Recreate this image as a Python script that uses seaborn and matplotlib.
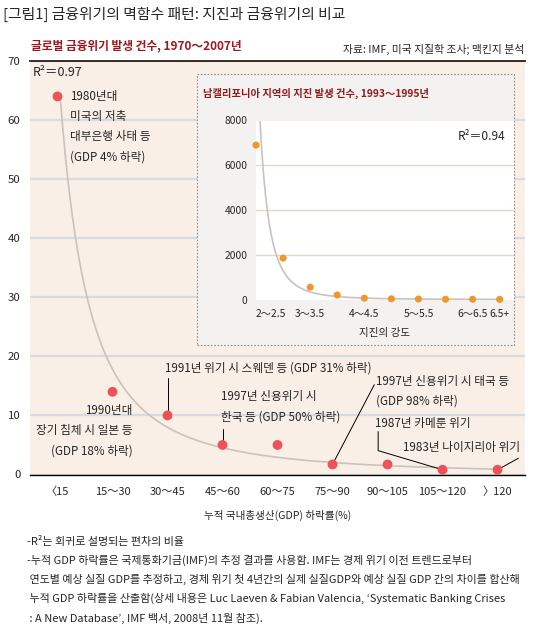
import numpy as np
import matplotlib
matplotlib.use("Agg")
import matplotlib.pyplot as plt
import seaborn as sns
from matplotlib.patches import Rectangle

# data
crisis_bins = ["〈15", "15～30", "30～45", "45～60", "60～75", "75～90", "90～105", "105～120", "〉120"]
crisis_counts = [64, 14, 10, 5, 5, 1.7, 1.7, 0.8, 0.8]
crisis_ticks = [0, 10, 20, 30, 40, 50, 60, 70]

quake_bins = ["2～2.5", "2.5～3", "3～3.5", "3.5～4", "4～4.5", "4.5～5", "5～5.5", "5.5～6", "6～6.5", "6.5+"]
quake_counts = [6900, 1850, 550, 200, 60, 30, 20, 10, 10, 5]
quake_ticks = [0, 2000, 4000, 6000, 8000]
quake_shown = ["2～2.5", "3～3.5", "4～4.5", "5～5.5", "6～6.5", "6.5+"]

notes = [
    "-R²는 회귀로 설명되는 편차의 비율",
    "-누적 GDP 하락률은 국제통화기금(IMF)의 추정 결과를 사용함. IMF는 경제 위기 이전 트렌드로부터",
    " 연도별 예상 실질 GDP를 추정하고, 경제 위기 첫 4년간의 실제 실질GDP와 예상 실질 GDP 간의 차이를 합산해",
    " 누적 GDP 하락률을 산출함(상세 내용은 Luc Laeven & Fabian Valencia, ‘Systematic Banking Crises",
    " : A New Database’, IMF 백서, 2008년 11월 참조).",
]

sns.set_style("white")
plt.rcParams['font.family'] = ['Noto Sans CJK KR', 'DejaVu Sans']

W, H = 548, 638
fig = plt.figure(figsize=(W / 100, H / 100), dpi=100)

def fx(px):
    return px / W

def fy(py):
    return 1 - py / H

RED = '#ec5257'
ORANGE = '#f2952b'
CURVE = '#c9c3bd'

# ---- main chart ----
ax = fig.add_axes([fx(30), fy(474.5), 495 / W, (474.5 - 61) / H])
ax.set_facecolor('#f9efe6')
x_main = np.arange(len(crisis_bins))

# power trend fitted on log-log
b, c = np.polyfit(np.log(x_main + 1), np.log(crisis_counts), 1)
x0 = np.exp((np.log(max(crisis_counts)) - c) / b) - 1
xs = np.linspace(x0, x_main[-1], 300)
ax.plot(xs, np.exp(c) * (xs + 1) ** b, color=CURVE, lw=1.2, zorder=2)

sns.scatterplot(x=x_main, y=crisis_counts, ax=ax, color=RED, s=50,
                edgecolor='none', zorder=4, clip_on=False, legend=False)

ax.set_xlim(-0.5, len(crisis_bins) - 0.5)
ax.set_ylim(0, 70)
ax.set_yticks(crisis_ticks)
ax.yaxis.grid(True, color='#d6dde2', lw=1.6)
ax.set_axisbelow(True)
ax.set_xticks(x_main)
ax.set_xticklabels(crisis_bins)
ax.set_xticks(np.arange(0.5, len(crisis_bins) - 1, 1), minor=True)
ax.tick_params(axis='y', length=0, pad=7, labelsize=8.2)
ax.tick_params(axis='x', which='major', length=0, pad=9, labelsize=8)
ax.tick_params(axis='x', which='minor', length=5, width=0.9, direction='inout', color='black')
for s in ['left', 'right']:
    ax.spines[s].set_visible(False)
ax.spines['top'].set_color('#2b1d14')
ax.spines['top'].set_linewidth(1.3)
ax.spines['bottom'].set_color('black')
ax.spines['bottom'].set_linewidth(1.0)
ax.set_xlabel('누적 국내총생산(GDP) 하락률(%)', fontsize=7.6, labelpad=9)
ax.set_ylabel('')

ax.text(fx(33), fy(73), 'R²＝0.97', transform=fig.transFigure, fontsize=9, va='center')

# annotations
ann = dict(fontsize=8.4, linespacing=1.72, va='center')
ax.text(0.227, 58.9, '1980년대\n미국의 저축\n대부은행 사태 등\n(GDP 4% 하락)', ha='left', **ann)
ax.text(1.37, 7.4, '1990년대\n장기 침체 시 일본 등\n(GDP 18% 하락)', ha='right', **ann)
ax.text(1.955, 18.1, '1991년 위기 시 스웨덴 등 (GDP 31% 하락)', ha='left', **ann)
ax.text(2.97, 11.5, '1997년 신용위기 시\n한국 등 (GDP 50% 하락)', ha='left', **ann)
ax.text(5.79, 14.1, '1997년 신용위기 시 태국 등\n(GDP 98% 하락)', ha='left', **ann)
ax.text(5.77, 8.7, '1987년 카메룬 위기', ha='left', **ann)
ax.text(6.29, 4.6, '1983년 나이지리아 위기', ha='left', **ann)

lk = dict(color='black', lw=0.7, zorder=3)
ax.plot([x_main[2], x_main[2]], [crisis_counts[2], 16.4], **lk)
ax.plot([x_main[3], x_main[3]], [crisis_counts[3], 7.7], **lk)
ax.plot([x_main[5], 5.76], [crisis_counts[5], 15.2], **lk)
ax.plot([5.83, 5.83, x_main[7]], [7.27, 4.04, crisis_counts[7]], **lk)
ax.plot([8.38, x_main[8]], [2.75, crisis_counts[8]], clip_on=False, **lk)

# ---- inset ----
box = Rectangle((fx(197), fy(345)), 317 / W, 271 / H, transform=fig.transFigure,
                facecolor='#f4f2f1', edgecolor='#8d8d8d', lw=0.8,
                linestyle=(0, (1.5, 1.5)), zorder=1)
fig.add_artist(box)

ax2 = fig.add_axes([fx(256), fy(299.5), 258 / W, (299.5 - 120.5) / H], zorder=3)
ax2.set_facecolor('white')
x_q = np.arange(len(quake_bins))

bq, cq = np.polyfit(np.log(x_q + 1), np.log(quake_counts), 1)
xq = np.linspace(0, x_q[-1], 400)
ax2.plot(xq, np.exp(cq) * (xq + 1) ** bq, color=CURVE, lw=1.2, zorder=2)

sns.scatterplot(x=x_q, y=quake_counts, ax=ax2, color=ORANGE, s=26,
                edgecolor='none', zorder=4, clip_on=False, legend=False)

ax2.set_xlim(0, len(quake_bins) - 0.47)
ax2.set_ylim(0, 8000)
ax2.set_yticks(quake_ticks)
ax2.yaxis.grid(True, color='#e3d9cb', lw=1.0)
gl = ax2.get_ygridlines()
gl[0].set_visible(False)
gl[-1].set_visible(False)
ax2.set_axisbelow(True)
pos = [quake_bins.index(t) for t in quake_shown]
ax2.set_xticks(pos)
ax2.set_xticklabels(quake_shown)
ax2.get_xticklabels()[0].set_horizontalalignment('left')
ax2.tick_params(axis='both', length=0, labelsize=7.4)
ax2.tick_params(axis='x', pad=7)
ax2.tick_params(axis='y', pad=6)
for s in ax2.spines.values():
    s.set_visible(False)
ax2.set_xlabel('지진의 강도', fontsize=7.6, labelpad=6)
ax2.set_ylabel('')

fig.text(fx(505), fy(137), 'R²＝0.94', ha='right', va='center', fontsize=8.6)
fig.text(fx(203), fy(93), '남캘리포니아 지역의 지진 발생 건수, 1993～1995년',
         color='#8e1b1f', fontsize=7.4, fontweight='bold', va='center')

# ---- headings ----
fig.text(fx(3), fy(14), '[그림1] 금융위기의 멱함수 패턴: 지진과 금융위기의 비교', fontsize=10.7, va='center')
fig.text(fx(31), fy(46), '글로벌 금융위기 발생 건수, 1970～2007년', color='#a3151c',
         fontsize=8.45, fontweight='bold', va='center')
fig.text(fx(524), fy(49), '자료: IMF, 미국 지질학 조사; 맥킨지 분석', ha='right', va='center', fontsize=7.8)

# ---- footnotes ----
for i, line in enumerate(notes):
    fig.text(fx(27), fy(541 + 19.3 * i), line, fontsize=7.95, va='center')

fig.savefig('out.png', dpi=100, facecolor='white')
